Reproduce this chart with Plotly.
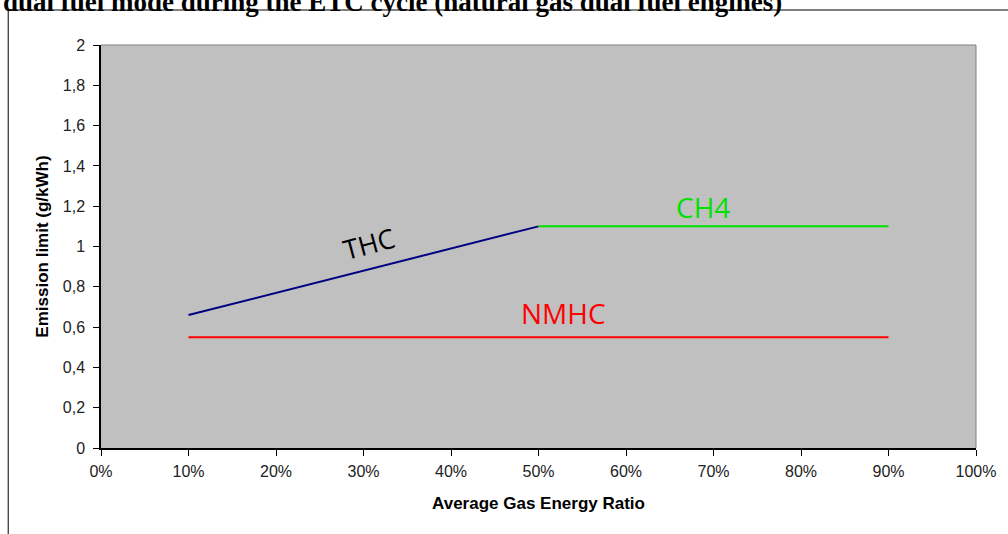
import plotly.graph_objects as go

# Data
thc_x = [0.10, 0.50]
thc_y = [0.66, 1.10]
ch4_x = [0.50, 0.90]
ch4_y = [1.10, 1.10]
nmhc_x = [0.10, 0.90]
nmhc_y = [0.55, 0.55]

y_ticks = [0, 0.2, 0.4, 0.6, 0.8, 1.0, 1.2, 1.4, 1.6, 1.8, 2.0]
y_ticktext = ["0", "0,2", "0,4", "0,6", "0,8", "1", "1,2", "1,4", "1,6", "1,8", "2"]
x_ticks = [0, 0.1, 0.2, 0.3, 0.4, 0.5, 0.6, 0.7, 0.8, 0.9, 1.0]
x_ticktext = ["0%", "10%", "20%", "30%", "40%", "50%", "60%", "70%", "80%", "90%", "100%"]

title_text = "dual fuel mode during the ETC cycle (natural gas dual fuel engines)"

W, H = 1008, 534
L, R, T, B = 101, 30, 45, 86
pw, ph = W - L - R, H - T - B

def px(x):
    return (x - L) / pw

def py(y):
    return (H - B - y) / ph

fig = go.Figure()
fig.add_trace(go.Scatter(x=thc_x, y=thc_y, mode="lines", line=dict(color="#000080", width=2), name="THC"))
fig.add_trace(go.Scatter(x=ch4_x, y=ch4_y, mode="lines", line=dict(color="#00E000", width=2), name="CH4"))
fig.add_trace(go.Scatter(x=nmhc_x, y=nmhc_y, mode="lines", line=dict(color="#FF0000", width=2), name="NMHC"))

fig.update_layout(
    width=W, height=H,
    margin=dict(l=L, r=R, t=T, b=B),
    paper_bgcolor="white",
    plot_bgcolor="#C0C0C0",
    showlegend=False,
    font=dict(family="Arial, Liberation Sans, sans-serif", color="#222222", size=16),
)

fig.update_xaxes(
    range=[0, 1], tickvals=x_ticks, ticktext=x_ticktext,
    showgrid=False, zeroline=False,
    showline=True, linecolor="black", linewidth=1.5,
    ticks="outside", ticklen=6, tickcolor="black", ticklabelstandoff=2,
    title=dict(text="<b>Average Gas Energy Ratio</b>", font=dict(size=17, color="black"), standoff=18),
)
fig.update_yaxes(
    range=[0, 2], tickvals=y_ticks, ticktext=y_ticktext,
    showgrid=False, zeroline=False,
    showline=True, linecolor="black", linewidth=1.5,
    ticks="outside", ticklen=6, tickcolor="black", ticklabelstandoff=5,
    title=dict(text="<b>Emission limit (g/kWh)</b>", font=dict(size=17, color="black"), standoff=10),
)

# plot-area border (top and right, gray)
fig.add_shape(type="line", xref="paper", yref="paper", x0=0, x1=1, y0=1, y1=1,
              line=dict(color="#808080", width=1))
fig.add_shape(type="line", xref="paper", yref="paper", x0=1, x1=1, y0=0, y1=1,
              line=dict(color="#808080", width=1))

# outer frame
fig.add_shape(type="line", xref="paper", yref="paper", x0=px(8), x1=px(1010), y0=py(10), y1=py(10),
              line=dict(color="black", width=1))
fig.add_shape(type="line", xref="paper", yref="paper", x0=px(8), x1=px(8), y0=py(10), y1=py(540),
              line=dict(color="black", width=1))

# title (partly cut at top, as in the source)
fig.add_annotation(text="<b>" + title_text + "</b>", xref="paper", yref="paper",
                   x=px(1), y=py(2), xanchor="left", yanchor="middle", showarrow=False,
                   font=dict(family="Liberation Serif, Times New Roman, serif", size=27, color="black"))

# series labels
fig.add_annotation(text="THC", x=0.306, y=1.015, showarrow=False, textangle=-15,
                   font=dict(family="Open Sans, sans-serif", size=27, color="black"))
fig.add_annotation(text="CH4", x=0.688, y=1.195, showarrow=False,
                   font=dict(family="Open Sans, sans-serif", size=28, color="#00E000"))
fig.add_annotation(text="NMHC", x=0.528, y=0.67, showarrow=False,
                   font=dict(family="Open Sans, sans-serif", size=28, color="#FF0000"))

fig.write_html("out.html", config={"displayModeBar": False},
               post_script="document.body.style.margin='0';document.body.style.overflow='hidden';")
